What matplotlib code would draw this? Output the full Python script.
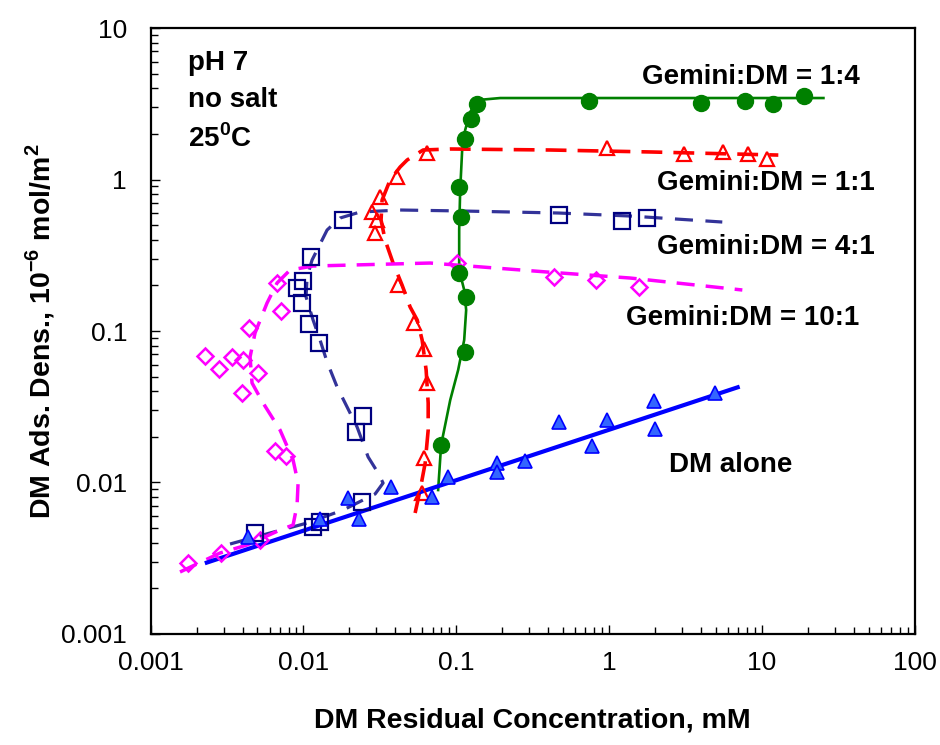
"""
DM adsorption density vs residual concentration, log-log,
for several Gemini:DM ratios plus DM alone.
"""

import numpy as np
import matplotlib
matplotlib.use("Agg")
import matplotlib.pyplot as plt
import matplotlib as mpl
from matplotlib.ticker import FixedLocator, LogLocator, NullFormatter, FuncFormatter


# --- data ---

# Gemini:DM = 1:4  (filled green circles, solid curve)
g14_x = [0.0796, 0.1144, 0.1161, 0.1045, 0.1076, 0.1045, 0.1144, 0.1252,
         0.1371, 0.742, 4.02, 7.80, 11.9, 18.98]
g14_y = [0.0177, 0.0727, 0.168, 0.241, 0.566, 0.892, 1.85, 2.51,
         3.15, 3.30, 3.20, 3.30, 3.15, 3.56]
g14_fit_x = [0.0761, 0.0796, 0.0913, 0.1029, 0.1127, 0.1161, 0.1127, 0.1045,
             0.1045, 0.1061, 0.1093, 0.1144, 0.1233, 0.1391, 0.194, 0.876, 25.3]
g14_fit_y = [0.00892, 0.0177, 0.035, 0.0553, 0.0872, 0.1376, 0.1865, 0.2527,
             0.464, 0.852, 1.566, 2.122, 2.79, 3.348, 3.45, 3.45, 3.45]

# Gemini:DM = 1:1  (open red triangles, dashed curve)
g11_x = [0.0595, 0.0619, 0.0648, 0.0619, 0.0532, 0.0418, 0.0294, 0.0303,
         0.0281, 0.0317, 0.0408, 0.0642, 0.969, 3.11, 5.60, 8.16, 10.86]
g11_y = [0.00849, 0.01445, 0.0452, 0.0757, 0.1134, 0.201, 0.444, 0.540,
         0.610, 0.770, 1.034, 1.503, 1.608, 1.474, 1.52, 1.474, 1.366]
g11_fit_x = [0.0538, 0.058, 0.0626, 0.0655, 0.0655, 0.0635, 0.0598, 0.0555,
             0.0499, 0.0442, 0.0386, 0.0342, 0.0322, 0.0327, 0.0369, 0.0429,
             0.0477, 0.0607, 0.0913, 0.412, 1.861, 12.82]
g11_fit_y = [0.00629, 0.00892, 0.01345, 0.0222, 0.0335, 0.0553, 0.0872, 0.1182,
             0.144, 0.201, 0.281, 0.399, 0.540, 0.732, 0.992, 1.209,
             1.345, 1.566, 1.59, 1.566, 1.52, 1.45]

# Gemini:DM = 4:1  (open navy squares, dashed curve)
g41_x = [0.00482, 0.0115, 0.01284, 0.02409, 0.0220, 0.02445, 0.0127, 0.01093,
         0.00975, 0.00904, 0.00999, 0.01121, 0.01808, 0.467, 1.215, 1.771]
g41_y = [0.00462, 0.0051, 0.00551, 0.00747, 0.0216, 0.0276, 0.0829, 0.1107,
         0.1537, 0.1913, 0.2148, 0.3078, 0.540, 0.583, 0.532, 0.555]
g41_fit_x = [0.003306, 0.006043, 0.01056, 0.01816, 0.02944, 0.0332, 0.0308,
             0.0265, 0.02244, 0.0166, 0.01428, 0.01284, 0.01156, 0.0104,
             0.01056, 0.01138, 0.01428, 0.01736, 0.02348, 0.0429, 0.1061,
             0.4648, 1.376, 5.51]
g41_fit_y = [0.003926, 0.004642, 0.0054, 0.00658, 0.0084, 0.00992, 0.01156,
             0.01474, 0.02324, 0.0427, 0.0624, 0.0872, 0.1182, 0.1677,
             0.2272, 0.294, 0.4642, 0.557, 0.610, 0.629, 0.620,
             0.601, 0.574, 0.524]

# Gemini:DM = 10:1  (open magenta diamonds, dashed curve)
g101_x = [0.001763, 0.002873, 0.0052, 0.00652, 0.00769, 0.003944, 0.005067,
          0.004041, 0.003393, 0.002813, 0.002268, 0.0044, 0.0071, 0.00669,
          0.1018, 0.433, 0.824, 1.561]
g101_y = [0.00293, 0.00341, 0.00417, 0.01614, 0.01496, 0.0391, 0.0526,
          0.0644, 0.0677, 0.0559, 0.0684, 0.1042, 0.1361, 0.2084,
          0.2798, 0.2283, 0.2171, 0.1942]
g101_fit_x = [0.001556, 0.002843, 0.004272, 0.007026, 0.00855, 0.009082,
              0.00922, 0.00855, 0.007026, 0.005438, 0.004607, 0.004471,
              0.004819, 0.005775, 0.006716, 0.008173, 0.01156, 0.0675,
              0.3938, 1.376, 7.454]
g101_fit_y = [0.002566, 0.003424, 0.003868, 0.004858, 0.005242, 0.0071,
              0.00992, 0.01408, 0.0222, 0.0335, 0.04538, 0.0674,
              0.097, 0.153, 0.2074, 0.2527, 0.2685, 0.281,
              0.2451, 0.2237, 0.1865]

# DM alone  (filled blue triangles, straight fit)
dm_x = [0.004357, 0.01284, 0.01968, 0.02312, 0.0375, 0.0699, 0.0881, 0.1845,
        0.1845, 0.2827, 0.467, 0.773, 0.969, 1.956, 1.986, 4.96]
dm_y = [0.00439, 0.00571, 0.00787, 0.00571, 0.0093, 0.00806, 0.01092, 0.01339,
        0.01178, 0.01387, 0.0252, 0.0175, 0.02585, 0.0347, 0.02244, 0.0391]
dm_fit_x = [0.00233, 6.95]
dm_fit_y = [0.00296, 0.0425]

x_ticks = [0.001, 0.01, 0.1, 1, 10, 100]
y_ticks = [0.001, 0.01, 0.1, 1, 10]


# --- style ---

GREEN = "#008000"
RED = "#ff0000"
NAVY = "#000080"
NAVY_LINE = "#333399"
MAGENTA = "#ff00ff"
BLUE = "#0000ff"
BLUE_FACE = "#3366ff"

mpl.rcParams.update({
    "font.family": ["Liberation Sans", "DejaVu Sans"],
    "font.size": 19,
    "mathtext.fontset": "custom",
    "mathtext.rm": "Liberation Sans",
    "mathtext.bf": "Liberation Sans:bold",
    "lines.scale_dashes": False,
})

fig = plt.figure(figsize=(9.4, 7.45), dpi=100)
ax = fig.add_axes([0.1603, 0.1490, 0.8127, 0.8134])
ax.set_xscale("log")
ax.set_yscale("log")

# fitted curves
ax.plot(g14_fit_x, g14_fit_y, color=GREEN, lw=1.9, zorder=2)
ax.plot(g11_fit_x, g11_fit_y, color=RED, lw=2.6, dashes=(15, 8), zorder=2)
ax.plot(g41_fit_x, g41_fit_y, color=NAVY_LINE, lw=2.3, dashes=(13, 9), zorder=2)
ax.plot(g101_fit_x, g101_fit_y, color=MAGENTA, lw=2.5, dashes=(13, 8), zorder=2)
ax.plot(dm_fit_x, dm_fit_y, color=BLUE, lw=3.0, zorder=2)

# data points
ax.plot(g101_x, g101_y, ls="none", marker="D", ms=8, mfc="none",
        mec=MAGENTA, mew=1.8, zorder=3)
ax.plot(g41_x, g41_y, ls="none", marker="s", ms=11.5, mfc="none",
        mec=NAVY, mew=1.6, zorder=3)
ax.plot(g11_x, g11_y, ls="none", marker="^", ms=10, mfc="none",
        mec=RED, mew=1.6, zorder=3)
ax.plot(dm_x, dm_y, ls="none", marker="^", ms=10, mfc=BLUE_FACE,
        mec=BLUE, mew=1.2, zorder=3)
ax.plot(g14_x, g14_y, ls="none", marker="o", ms=11.5, mfc=GREEN,
        mec=GREEN, zorder=4)

# axes
ax.set_xlim(0.001, 100)
ax.set_ylim(0.001, 10)
ax.xaxis.set_major_locator(FixedLocator(x_ticks))
ax.yaxis.set_major_locator(FixedLocator(y_ticks))
ax.xaxis.set_minor_locator(LogLocator(base=10, subs=np.arange(2, 10)))
ax.yaxis.set_minor_locator(LogLocator(base=10, subs=np.arange(2, 10)))
ax.xaxis.set_minor_formatter(NullFormatter())
ax.yaxis.set_minor_formatter(NullFormatter())
fmt = FuncFormatter(lambda v, _: f"{v:g}")
ax.xaxis.set_major_formatter(fmt)
ax.yaxis.set_major_formatter(fmt)

ax.tick_params(which="both", direction="in", top=False, right=False,
               width=1.0, color="black")
ax.tick_params(which="major", length=6.5)
ax.tick_params(which="minor", length=5)
ax.tick_params(axis="x", which="major", pad=12, labelsize=19)
ax.tick_params(axis="y", which="major", pad=17, labelsize=19)
for sp in ax.spines.values():
    sp.set_linewidth(1.6)

ax.set_xlabel("DM Residual Concentration, mM", fontweight="bold",
              fontsize=20.5)
ax.set_ylabel(r"DM Ads. Dens., 10$^{\mathbf{-6}}$ mol/m$^{\mathbf{2}}$",
              fontweight="bold", fontsize=20.5)
ax.xaxis.set_label_coords(0.5, -0.122)
ax.yaxis.set_label_coords(-0.122, 0.5)

# annotations
kw = dict(fontweight="bold", fontsize=20, ha="left", va="center")
ax.text(1.642, 4.75, "Gemini:DM = 1:4", **kw)
ax.text(2.06, 0.944, "Gemini:DM = 1:1", **kw)
ax.text(2.06, 0.36, "Gemini:DM = 4:1", **kw)
ax.text(1.296, 0.121, "Gemini:DM = 10:1", **kw)
ax.text(2.45, 0.01305, "DM alone", **kw)

ax.text(0.049, 0.942, "pH 7", transform=ax.transAxes, **kw)
ax.text(0.049, 0.882, "no salt", transform=ax.transAxes, **kw)
ax.text(0.049, 0.818, r"25$^{\mathbf{0}}$C", transform=ax.transAxes, **kw)

fig.savefig("out.png", dpi=100)
